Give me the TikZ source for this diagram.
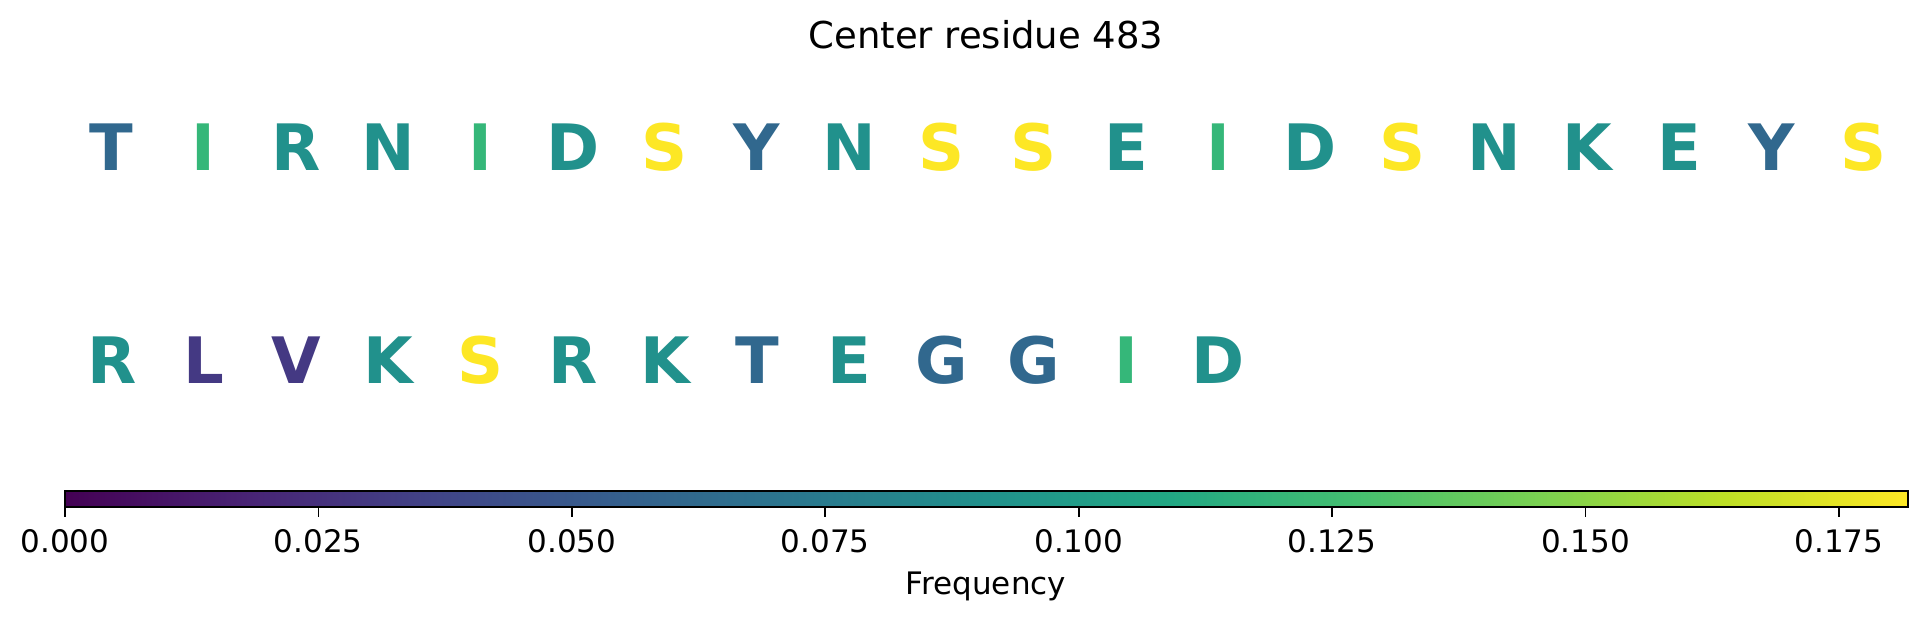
\documentclass[tikz,border=0pt]{standalone}
\usepackage{fontspec}
\setmainfont{DejaVu Sans}
\definecolor{vA}{HTML}{440154}
\definecolor{vB}{HTML}{482475}
\definecolor{vC}{HTML}{414487}
\definecolor{vD}{HTML}{355F8D}
\definecolor{vE}{HTML}{2A788E}
\definecolor{vF}{HTML}{21918C}
\definecolor{vG}{HTML}{22A884}
\definecolor{vH}{HTML}{44BF70}
\definecolor{vI}{HTML}{7AD151}
\definecolor{vJ}{HTML}{BDDF26}
\definecolor{vK}{HTML}{FDE725}
\definecolor{cone}{HTML}{443983}
\definecolor{ctwo}{HTML}{31688E}
\definecolor{cthree}{HTML}{21918C}
\definecolor{cfour}{HTML}{35B779}
\definecolor{csix}{HTML}{FDE725}
\pgfdeclarehorizontalshading{viridis}{100bp}{color(0bp)=(vA); color(25bp)=(vA); color(30bp)=(vB); color(35bp)=(vC); color(40bp)=(vD); color(45bp)=(vE); color(50bp)=(vF); color(55bp)=(vG); color(60bp)=(vH); color(65bp)=(vI); color(70bp)=(vJ); color(75bp)=(vK); color(100bp)=(vK)}
\tikzset{
  res/.style={inner sep=0pt, anchor=base, font=\fontsize{64}{70}\selectfont\bfseries},
  ticklab/.style={inner sep=0pt, anchor=base, font=\fontsize{31}{35}\selectfont},
}
\begin{document}
\begin{tikzpicture}[x=1pt,y=1pt]
\useasboundingbox[fill=white] (0,0) rectangle (1927,619);
\node[inner sep=0pt, anchor=base, font=\fontsize{37}{42}\selectfont] (title) at (986,570) {Center residue 483};
% row 1
\foreach \l/\c [count=\i from 0] in {T/ctwo,I/cfour,R/cthree,N/cthree,I/cfour,D/cthree,S/csix,Y/ctwo,N/cthree,S/csix,S/csix,E/cthree,I/cfour,D/cthree,S/csix,N/cthree,K/cthree,E/cthree,Y/ctwo,S/csix}
  \node[res, text=\c] (a\i) at ({111.7+92.2*\i},448.3) {\l};
% row 2
\foreach \l/\c [count=\i from 0] in {R/cthree,L/cone,V/cone,K/cthree,S/csix,R/cthree,K/cthree,T/ctwo,E/cthree,G/ctwo,G/ctwo,I/cfour,D/cthree}
  \node[res, text=\c] (b\i) at ({111.7+92.2*\i},235) {\l};
% colorbar
\shade[shading=viridis] (65,111.7) rectangle (1908,128.3);
\draw[line width=2pt] (65,111.7) rectangle (1908,128.3);
\foreach \v/\t in {0/0.000,0.025/0.025,0.05/0.050,0.075/0.075,0.1/0.100,0.125/0.125,0.15/0.150,0.175/0.175}{
  \draw[line width=1.7pt] ({65+\v*10136.5},111.7) -- ({65+\v*10136.5},102);
  \node[ticklab] at ({65+\v*10136.5},67) {\t};
}
\node[ticklab] (freq) at (986,25) {Frequency};
\end{tikzpicture}
\end{document}
